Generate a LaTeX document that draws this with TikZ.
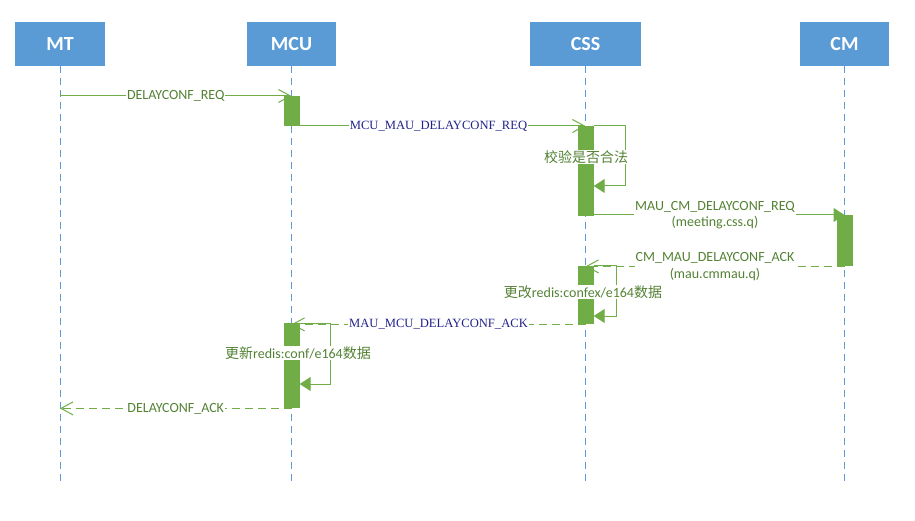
\documentclass[tikz,border=0pt]{standalone}
\usepackage{fontspec}
\setmainfont{Carlito}
\newfontfamily\cjk{Noto Sans CJK SC}
\newfontfamily\navyfont{Liberation Serif}
\usetikzlibrary{arrows.meta}
\definecolor{hdr}{HTML}{5B9BD5}
\definecolor{actgreen}{HTML}{70AD47}
\definecolor{lblgreen}{HTML}{548235}
\definecolor{navy}{HTML}{22228C}
\pgfdeclarelayer{bg}
\pgfsetlayers{bg,main}
\begin{document}
\begin{tikzpicture}[x=1pt,y=-1pt,
  header/.style={fill=hdr, text=white, font=\bfseries\fontsize{20}{24}\selectfont, minimum height=44pt, inner sep=0pt},
  lifeline/.style={draw=hdr, line width=1pt, dash pattern=on 7pt off 5pt},
  actbar/.style={fill=actgreen, minimum width=16pt, inner sep=0pt},
  msgline/.style={draw=actgreen, line width=1pt},
  retline/.style={draw=actgreen, line width=1pt, dash pattern=on 8pt off 5pt},
  openhead/.style={-{Straight Barb[length=12pt,width=13pt,line width=1pt]}},
  filledhead/.style={-{Triangle[length=11pt,width=14pt]}},
  lblG/.style={fill=white, text=lblgreen, inner sep=1pt, font=\fontsize{14}{16.5}\selectfont},
  lblN/.style={fill=white, text=navy, inner sep=1pt, font=\navyfont\fontsize{12.6}{15}\selectfont},
]
\useasboundingbox (0,0) rectangle (915,521);

% headers
\node[header, minimum width=90pt] (mt) at (60,44) {MT};
\node[header, minimum width=89pt] (mcu) at (291.5,44) {MCU};
\node[header, minimum width=111pt] (css) at (585.5,44) {CSS};
\node[header, minimum width=89pt] (cm) at (844.5,44) {CM};

% activation bars
\node[actbar, minimum height=30pt, anchor=north] (mcuA) at (mcu.south |- 0,96) {};
\node[actbar, minimum height=90pt, anchor=north] (cssA) at (css.south |- 0,126) {};
\node[actbar, minimum height=51pt, anchor=north] (cmA) at (cm.south |- 0,215) {};
\node[actbar, minimum height=58pt, anchor=north] (cssB) at (css.south |- 0,266) {};
\node[actbar, minimum height=85pt, anchor=north] (mcuB) at (mcu.south |- 0,323) {};

\begin{pgfonlayer}{bg}
\foreach \n in {mt,mcu,css,cm}
  \draw[lifeline] (\n.south) -- (\n.south |- 0,482);

\draw[msgline, openhead] (mt.south |- mcuA.north) -- node[lblG]{DELAYCONF\_REQ} (mcu.south |- mcuA.north);
\draw[msgline, openhead] (mcu.south |- cssA.north) -- node[lblN]{MCU\_MAU\_DELAYCONF\_REQ} (css.south |- cssA.north);
\draw[msgline, filledhead] (css.south |- cmA.north) -- node[lblG, align=center]{MAU\_CM\_DELAYCONF\_REQ\\(meeting.css.q)} (cm.south |- cmA.north);
\draw[retline, openhead] (cm.south |- cmA.south) -- node[lblG, align=center]{CM\_MAU\_DELAYCONF\_ACK\\(mau.cmmau.q)} (css.south |- cmA.south);
\draw[retline, openhead] (css.south |- cssB.south) -- node[lblN]{MAU\_MCU\_DELAYCONF\_ACK} (mcu.south |- cssB.south);
\draw[retline, openhead] (mcu.south |- mcuB.south) -- node[lblG]{DELAYCONF\_ACK} (mt.south |- mcuB.south);
\end{pgfonlayer}

% self loops
\draw[msgline, filledhead] (cssA.north east) -- ++(32,0) |- (cssA.east |- 0,186);
\draw[msgline, filledhead] (cssB.north east) -- ++(23,0) |- (cssB.east |- 0,316);
\draw[msgline, filledhead] (mcuB.north east) -- ++(31,0) |- (mcuB.east |- 0,384);

\node[lblG] (chk) at (586,157) {\cjk 校验是否合法};
\node[lblG] (upd1) at (583,292) {{\cjk 更改}redis:confex/e164{\cjk 数据}};
\node[lblG] (upd2) at (298,353) {{\cjk 更新}redis:conf/e164{\cjk 数据}};
\end{tikzpicture}
\end{document}
